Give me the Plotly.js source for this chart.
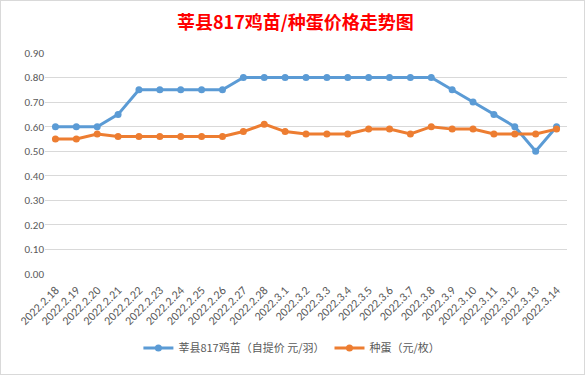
<!DOCTYPE html>
<html>
<head>
<meta charset="utf-8">
<script src="https://cdn.plot.ly/plotly-3.0.1.min.js"></script>
<style>
html,body{margin:0;padding:0;background:#fff;}
#chart{width:585px;height:375px;}
#frame{position:absolute;left:0;top:0;width:583px;height:373px;border:1px solid #d9d9d9;pointer-events:none;}
</style>
</head>
<body>
<div id="chart"></div>
<div id="frame"></div>
<script>
const dates = ["2022.2.18","2022.2.19","2022.2.20","2022.2.21","2022.2.22","2022.2.23","2022.2.24","2022.2.25","2022.2.26","2022.2.27","2022.2.28","2022.3.1","2022.3.2","2022.3.3","2022.3.4","2022.3.5","2022.3.6","2022.3.7","2022.3.8","2022.3.9","2022.3.10","2022.3.11","2022.3.12","2022.3.13","2022.3.14"];
const chickPrice = [0.60,0.60,0.60,0.65,0.75,0.75,0.75,0.75,0.75,0.80,0.80,0.80,0.80,0.80,0.80,0.80,0.80,0.80,0.80,0.75,0.70,0.65,0.60,0.50,0.60];
const eggPrice = [0.55,0.55,0.57,0.56,0.56,0.56,0.56,0.56,0.56,0.58,0.61,0.58,0.57,0.57,0.57,0.59,0.59,0.57,0.60,0.59,0.59,0.57,0.57,0.57,0.59];
const seriesNames = ["莘县817鸡苗（自提价 元/羽）","种蛋（元/枚）"];
const yTicks = [0,0.1,0.2,0.3,0.4,0.5,0.6,0.7,0.8,0.9];
const titleText = "莘县817鸡苗/种蛋价格走势图";

const font = "'Microsoft YaHei','Noto Sans CJK SC','Noto Sans',sans-serif";
const traces = [
  {x: dates, y: chickPrice, name: seriesNames[0], type: "scatter", mode: "lines+markers",
   line: {color: "#5B9BD5", width: 3}, marker: {color: "#5B9BD5", size: 7}},
  {x: dates, y: eggPrice, name: seriesNames[1], type: "scatter", mode: "lines+markers",
   line: {color: "#ED7D31", width: 3}, marker: {color: "#ED7D31", size: 7}}
];
const layout = {
  width: 585, height: 375,
  margin: {l: 45, r: 18, t: 53, b: 97},
  paper_bgcolor: "#fff", plot_bgcolor: "#fff",
  font: {family: font, color: "#595959", size: 11},
  title: {text: "<b>" + titleText + "</b>", font: {family: "'Noto Sans CJK SC',sans-serif", size: 18, color: "#FF0000"},
          x: 0.505, xanchor: "center", y: 0.94, yanchor: "middle"},
  xaxis: {type: "category", range: [-0.5, dates.length - 0.5], tickmode: "array", tickvals: dates, ticktext: dates, tickangle: -45,
          tickfont: {size: 12, color: "#595959", family: "Calibri,'Liberation Sans',sans-serif"}, ticklabelstandoff: 6,
          showgrid: false, showline: false, zeroline: false, ticks: "", automargin: false},
  yaxis: {range: [0, 0.9], tickvals: yTicks, tickformat: ".2f", showgrid: true, gridcolor: "#D9D9D9", gridwidth: 1,
          zeroline: false, showline: false, ticks: "", tickfont: {size: 11, color: "#595959", family: "Calibri,'Liberation Sans',sans-serif"},
          automargin: false},
  showlegend: true,
  legend: {orientation: "h", x: 0.473, xanchor: "center", y: -0.335, yanchor: "middle",
           font: {size: 11, color: "#595959"}},
  hovermode: false
};
Plotly.newPlot("chart", traces, layout, {staticPlot: true, displayModeBar: false});
</script>
</body>
</html>
